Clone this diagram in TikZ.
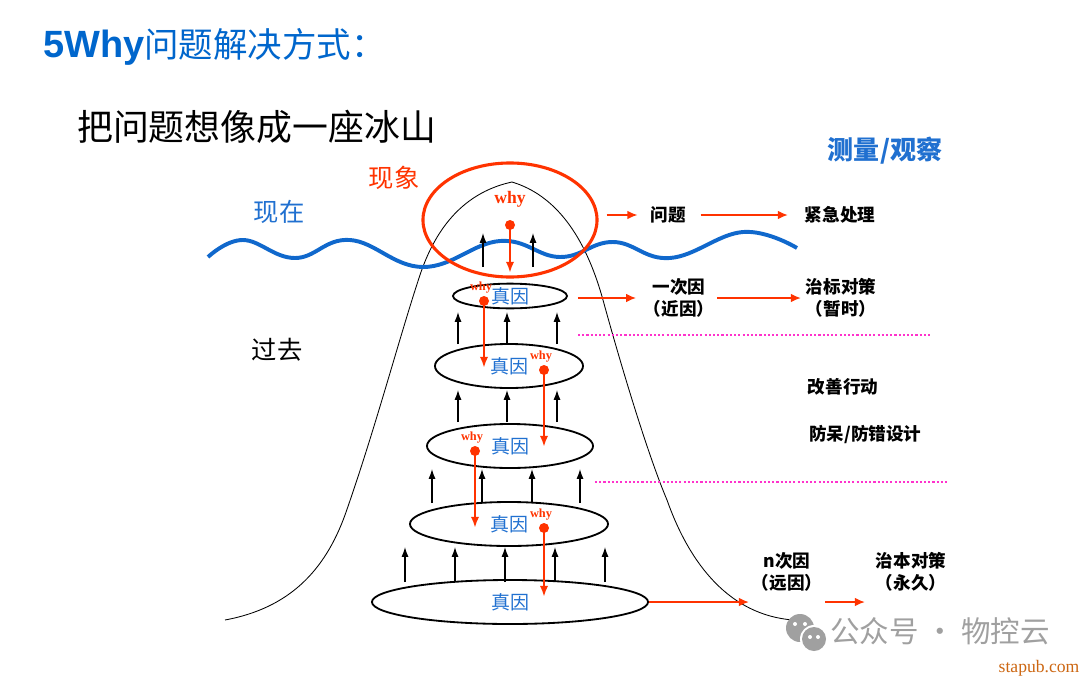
\documentclass[tikz,border=0pt]{standalone}
\usepackage{fontspec}
\usetikzlibrary{shapes.geometric,arrows.meta}
\newfontfamily\cjk{Noto Sans CJK SC}
\newfontfamily\latinb{Liberation Sans}
\newfontfamily\whyfont{Liberation Serif}
\definecolor{titleblue}{RGB}{0,102,204}
\definecolor{waveblue}{RGB}{16,104,204}
\definecolor{causeblue}{RGB}{32,112,208}
\definecolor{whyred}{RGB}{255,51,0}
\definecolor{dotpink}{RGB}{255,51,204}
\definecolor{wmgray}{RGB}{160,160,160}
\definecolor{siteorange}{RGB}{204,102,17}
\begin{document}
\begin{tikzpicture}[x=0.025cm, y=-0.025cm,
    lbl/.style={font=\cjk\bfseries\fontsize{12.5}{15.5}\selectfont, inner sep=2pt, align=center},
    bigtxt/.style={font=\cjk\fontsize{18}{22}\selectfont, inner sep=1pt},
    tier/.style={draw, line width=1.3pt, ellipse, inner sep=0pt,
        font=\cjk\fontsize{13.5}{15}\selectfont, text=causeblue},
    uparr/.style={-{Latex[length=7pt,width=5pt]}, line width=0.9pt},
    whyarr/.style={-{Latex[length=8pt,width=6pt]}, line width=2pt, whyred},
    redarr/.style={-{Latex[length=7pt,width=6pt]}, line width=0.8pt, whyred},
    dotline/.style={dotpink, line width=1.7pt, dash pattern=on 1.5pt off 1.5pt},
    whysm/.style={font=\whyfont\bfseries\fontsize{8.8}{10}\selectfont, text=whyred, inner sep=0pt}]
    \useasboundingbox (0,0) rectangle (1080,678);
    % Titoli
    \node[anchor=west, text=titleblue, inner sep=0pt] (title) at (43,47)
        {{\latinb\bfseries\fontsize{27}{30}\selectfont 5Why}{\cjk\fontsize{24.5}{29}\selectfont 问题解决方式：}};
    \node[anchor=west, inner sep=0pt, font=\cjk\fontsize{25.5}{30}\selectfont] (sub) at (77,127) {把问题想像成一座冰山};
    \node[font=\cjk\bfseries\fontsize{18.5}{22}\selectfont, text=causeblue] (measure) at (885,151) {测量/观察};
    \node[bigtxt, text=whyred] (xianxiang) at (394,178) {现象};
    \node[bigtxt, text=causeblue] (xianzai) at (279,212) {现在};
    \node[bigtxt] (guoqu) at (277,350) {过去};
    % Iceberg
    \draw[line width=0.6pt] (225,620) .. controls (290,608) and (325,570) .. (345,515)
        .. controls (375,430) and (400,335) .. (420,275)
        .. controls (440,215) and (475,190) .. (512,182)
        .. controls (555,195) and (585,235) .. (603,300)
        .. controls (625,380) and (650,460) .. (667,500)
        .. controls (690,565) and (730,615) .. (793,620);
    % Onda
    \draw[waveblue, line width=2.8pt] plot[smooth, tension=0.7] coordinates {(208,257) (243,240) (295,258)
        (350,240) (423,267) (500,241) (560,257) (613,242) (670,258) (743,232) (797,248)};
    % Livelli
    \node[draw=whyred, line width=2.2pt, ellipse, minimum width=4.35cm, minimum height=2.85cm] (ph) at (510,220) {};
    \node[tier, minimum width=2.85cm, minimum height=0.6cm] (t1) at (510,296) {真因};
    \node[tier, minimum width=3.7cm, minimum height=1.1cm] (t2) at (509,366) {真因};
    \node[tier, minimum width=4.15cm, minimum height=1.1cm] (t3) at (510,446) {真因};
    \node[tier, minimum width=4.95cm, minimum height=1.1cm] (t4) at (509,524) {真因};
    \node[tier, minimum width=6.9cm, minimum height=1.1cm] (t5) at (510,602) {真因};
    % Frecce nere
    \foreach \x in {483,533} \draw[uparr] (\x,267) -- (\x,233);
    \foreach \x in {458,507,557} {
        \draw[uparr] (\x,344) -- (\x,312);
        \draw[uparr] (\x,422) -- (\x,390);
    }
    \foreach \x in {432,482,532,580} \draw[uparr] (\x,503) -- (\x,469);
    \foreach \x in {405,455,505,555,605} \draw[uparr] (\x,582) -- (\x,547);
    % Why
    \node[text=whyred, inner sep=0pt, font=\whyfont\bfseries\fontsize{12.5}{14}\selectfont] (whytop) at (510,199) {why};
    \fill[whyred] (510,225) circle (5);
    \draw[whyarr] (510,225) -- (510,273);
    \foreach \x/\ya/\yb in {484/301/368, 544/370/447, 475/451/528, 544/528/597} {
        \fill[whyred] (\x,\ya) circle (5);
        \draw[whyarr] (\x,\ya) -- (\x,\yb);
        \node[whysm] at (\x-3,\ya-13) {why};
    }
    % Colonna destra
    \node[lbl] (wenti) at (668,215) {问题};
    \node[lbl] (jinji) at (840,215) {紧急处理};
    \node[lbl] (yici) at (679,298) {一次因\\（近因）};
    \node[lbl] (zhibiao) at (841,298) {治标对策\\（暂时）};
    \node[lbl] (gaishan) at (843,387) {改善行动};
    \node[lbl, anchor=west] (fangdai) at (806,435) {防呆/防错设计};
    \node[lbl] (nci) at (787,572) {n次因\\（远因）};
    \node[lbl] (zhiben) at (911,572) {治本对策\\（永久）};
    \draw[redarr, shorten <=2mm, shorten >=2.5mm] (ph.east |- wenti.west) -- (wenti.west);
    \draw[redarr, shorten <=3mm, shorten >=3.5mm] (wenti.east) -- (jinji.west);
    \draw[redarr, shorten <=2.5mm, shorten >=1.2mm] (t1.east |- yici.west) -- (yici.west);
    \draw[redarr, shorten >=0.5mm] (yici.east) -- (zhibiao.west);
    \draw[redarr] (t5.east) -- (t5.east -| nci.west);
    \draw[redarr, shorten >=2mm] (t5.east -| nci.east) -- (t5.east -| zhiben.west);
    \draw[dotline] (578,335) -- (932,335);
    \draw[dotline] (595,482) -- (948,482);
    % Filigrana
    \fill[wmgray] (800,628) circle (14);
    \fill[white] (814,639) circle (14);
    \fill[wmgray] (814,639) circle (12);
    \foreach \x/\y in {795/624, 805/624} \fill[white] (\x,\y) circle (2);
    \foreach \x/\y in {810/637, 818/637} \fill[white] (\x,\y) circle (2);
    \node[font=\cjk\fontsize{21}{24}\selectfont, text=wmgray] (wm) at (940,631) {公众号 · 物控云};
    \node[font=\whyfont\fontsize{12.5}{14}\selectfont, text=siteorange] (site) at (1039,668) {stapub.com};
\end{tikzpicture}
\end{document}
